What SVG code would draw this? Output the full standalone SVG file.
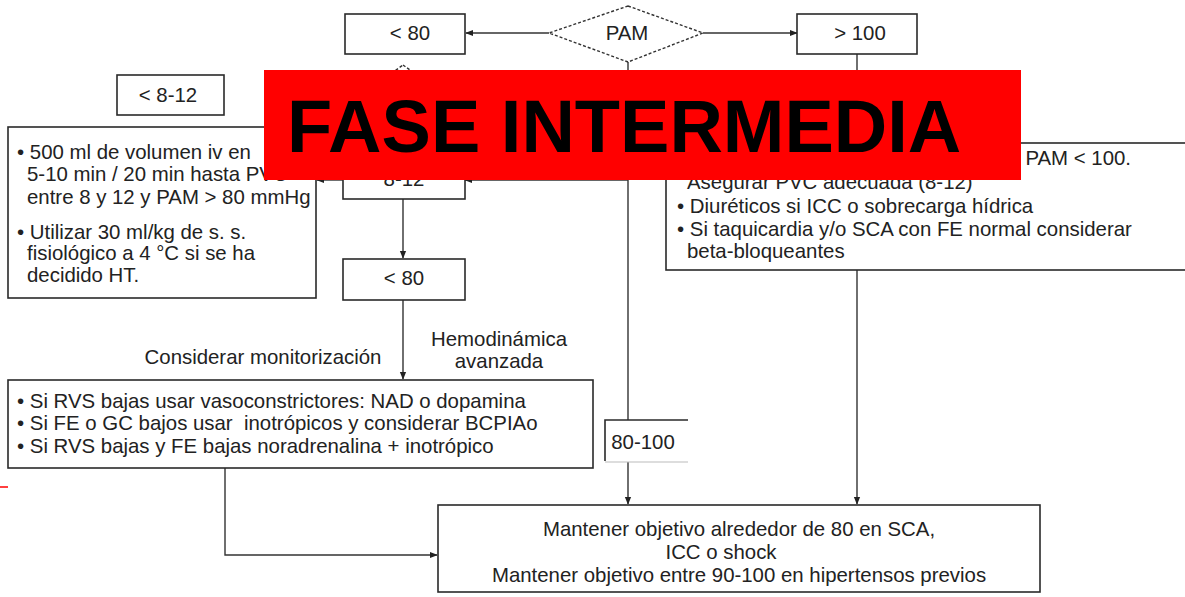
<svg xmlns="http://www.w3.org/2000/svg" width="1185" height="597" viewBox="0 0 1185 597">
  <style>
    .box { fill: #ffffff; stroke: #2a2a2a; stroke-width: 1.6; }
    .dia { fill: #ffffff; stroke: #333333; stroke-width: 1.4; stroke-dasharray: 3 2; }
    .t { font-family: "Liberation Sans", Arial, sans-serif; font-size: 20.4px; fill: #222222; }
    .c { text-anchor: middle; }
    .wire { fill: none; stroke: #333333; stroke-width: 1.4; }
    .banner-text { font-family: "Liberation Sans", Arial, sans-serif; font-weight: bold; font-size: 74px; fill: #000000; }
  </style>
  <defs>
    <marker id="ah" viewBox="0 0 10 10" refX="9" refY="5" markerWidth="8" markerHeight="8" markerUnits="userSpaceOnUse" orient="auto">
      <path d="M0,1 L10,5 L0,9 Z" fill="#222222"/>
    </marker>
  </defs>
  <rect width="1185" height="597" fill="#ffffff"/>

  <!-- connectors -->
  <g id="connectors">
    <line class="wire" x1="549" y1="33" x2="466" y2="33" marker-end="url(#ah)"/>
    <line class="wire" x1="703" y1="33" x2="797" y2="33" marker-end="url(#ah)"/>
    <line class="wire" x1="857" y1="54" x2="857" y2="143"/>
    <line class="wire" x1="628" y1="62" x2="628" y2="420"/>
    <line class="wire" x1="628" y1="180" x2="465" y2="180" marker-end="url(#ah)"/>
    <line class="wire" x1="343" y1="180" x2="317" y2="180" marker-end="url(#ah)"/>
    <line class="wire" x1="403" y1="199" x2="403" y2="258" marker-end="url(#ah)"/>
    <line class="wire" x1="403" y1="300" x2="403" y2="379" marker-end="url(#ah)"/>
    <polyline class="wire" points="225,468 225,555 437,555" marker-end="url(#ah)"/>
    <line class="wire" x1="628" y1="462" x2="628" y2="504" marker-end="url(#ah)"/>
    <line class="wire" x1="857" y1="270" x2="857" y2="504" marker-end="url(#ah)"/>
  </g>

  <!-- PAM decision -->
  <g id="pam">
    <polygon class="dia" points="628,6 703,33 628,62 549,33"/>
    <text class="t c" x="627" y="40">PAM</text>
  </g>

  <g id="pam-low">
    <rect class="box" x="345" y="14" width="120" height="40"/>
    <text class="t c" x="410" y="40">&lt; 80</text>
  </g>

  <g id="pam-high">
    <rect class="box" x="797" y="14" width="120" height="40"/>
    <text class="t c" x="860" y="40">&gt; 100</text>
  </g>

  <g id="pvc">
    <polygon class="dia" points="403,65 463,108 403,150 343,108"/>
  </g>

  <g id="pvc-low">
    <rect class="box" x="117" y="75" width="107" height="40"/>
    <text class="t c" x="168" y="102">&lt; 8-12</text>
  </g>

  <g id="volume">
    <rect class="box" x="8" y="127" width="308" height="171"/>
    <text class="t" x="17" y="159">• 500 ml de volumen iv en</text>
    <text class="t" x="27" y="181">5-10 min / 20 min hasta PVC</text>
    <text class="t" x="27" y="204">entre 8 y 12 y PAM &gt; 80 mmHg</text>
    <text class="t" x="17" y="239">• Utilizar 30 ml/kg de s. s.</text>
    <text class="t" x="27" y="260">fisiológico a 4 °C si se ha</text>
    <text class="t" x="27" y="282">decidido HT.</text>
  </g>

  <g id="pvc-ok">
    <rect class="box" x="343" y="158" width="122" height="41"/>
    <text class="t c" x="404" y="186">8-12</text>
  </g>

  <g id="pam-low-2">
    <rect class="box" x="343" y="259" width="122" height="41"/>
    <text class="t c" x="404" y="285">&lt; 80</text>
  </g>

  <g id="high-measures">
    <rect class="box" x="666" y="143" width="530" height="127"/>
    <text class="t" x="1131" y="165" text-anchor="end">PAM &lt; 100.</text>
    <text class="t" x="687" y="189">Asegurar PVC adecuada (8-12)</text>
    <text class="t" x="677" y="213">• Diuréticos si ICC o sobrecarga hídrica</text>
    <text class="t" x="677" y="236">• Si taquicardia y/o SCA con FE normal considerar</text>
    <text class="t" x="687" y="258">beta-bloqueantes</text>
  </g>

  <g id="labels">
    <text class="t c" x="263" y="364">Considerar monitorización</text>
    <text class="t c" x="499" y="346">Hemodinámica</text>
    <text class="t c" x="499" y="368">avanzada</text>
  </g>

  <g id="drugs">
    <rect class="box" x="8" y="380" width="585" height="88"/>
    <text class="t" x="17" y="408">• Si RVS bajas usar vasoconstrictores: NAD o dopamina</text>
    <text class="t" x="17" y="430" xml:space="preserve">• Si FE o GC bajos usar  inotrópicos y considerar BCPIAo</text>
    <text class="t" x="17" y="453">• Si RVS bajas y FE bajas noradrenalina + inotrópico</text>
  </g>

  <g id="pam-mid">
    <path d="M605,461 L605,420 L688,420" fill="none" stroke="#2a2a2a" stroke-width="1.6"/>
    <line x1="605" y1="462" x2="688" y2="462" stroke="#bbbbbb" stroke-width="1.2"/>
    <text class="t c" x="643" y="449">80-100</text>
  </g>

  <g id="target">
    <rect class="box" x="438" y="505" width="602" height="87"/>
    <text class="t c" x="739" y="536">Mantener objetivo alrededor de 80 en SCA,</text>
    <text class="t c" x="721" y="559">ICC o shock</text>
    <text class="t c" x="739" y="582">Mantener objetivo entre 90-100 en hipertensos previos</text>
  </g>

  <line x1="0" y1="487" x2="8" y2="487" stroke="#ff0000" stroke-width="1.5"/>

  <!-- title banner -->
  <g id="banner">
    <rect x="264" y="70" width="757" height="110" fill="#ff0000"/>
    <text class="banner-text" x="287" y="152">FASE INTERMEDIA</text>
  </g>
</svg>
